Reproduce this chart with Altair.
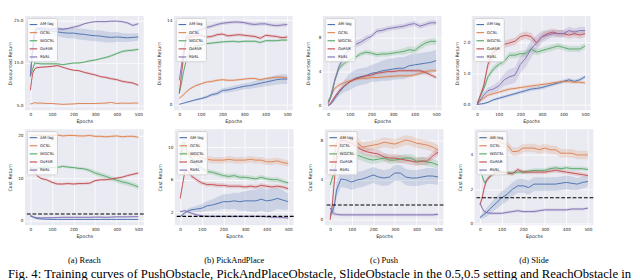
import altair as alt
import pandas as pd

SERIES = ["AM-lag", "GCSL", "WGCSL", "GoFAR", "RbSL"]
COLORS = ["#4C72B0", "#DD8452", "#55A868", "#C44E52", "#8172B3"]
EPOCHS = [0, 10, 20, 30, 50, 75, 100, 125, 150, 175, 200, 225, 250, 275, 300, 325, 350, 375, 400, 425, 450, 475, 500]
X_TICKS = [0, 100, 200, 300, 400, 500]

# ---------------- (a) Reach : Discounted Return ----------------
REACH_RET = {
    "AM-lag": [12.0, 18.5, 22.5, 23.0, 22.8, 22.6, 22.5, 22.3, 22.1, 22.0, 22.0, 21.8, 21.7, 21.5, 21.4, 21.3, 21.1, 21.0, 21.1, 21.0, 20.9, 21.0, 21.1],
    "GCSL": [5.4, 5.5, 5.7, 5.6, 5.6, 5.5, 5.5, 5.4, 5.3, 5.35, 5.4, 5.5, 5.5, 5.5, 5.5, 5.55, 5.6, 5.75, 5.5, 5.6, 5.55, 5.6, 5.6],
    "WGCSL": [11.8, 13.5, 15.0, 14.9, 14.8, 14.8, 14.8, 14.8, 14.6, 14.8, 15.0, 15.0, 15.2, 15.5, 15.7, 16.0, 16.3, 16.7, 17.2, 17.7, 17.9, 18.0, 18.2],
    "GoFAR": [8.6, 12.5, 13.6, 13.9, 14.0, 14.1, 14.2, 14.4, 14.0, 13.6, 13.3, 13.2, 12.8, 12.5, 12.2, 11.8, 11.6, 11.3, 11.1, 10.7, 10.5, 10.3, 9.8],
    "RbSL": [12.0, 17.5, 21.5, 23.0, 23.2, 23.0, 23.0, 23.0, 22.9, 23.1, 23.4, 23.7, 24.2, 24.5, 24.7, 24.7, 24.7, 24.8, 24.8, 24.7, 24.4, 23.8, 24.2],
}
REACH_RET_BAND = {
    "AM-lag": [0.5, 1.0, 0.8, 0.6, 0.5, 0.6, 0.8, 1.0, 1.1, 1.2, 1.2, 1.3, 1.3, 1.3, 1.3, 1.3, 1.3, 1.2, 1.2, 1.0, 1.0, 0.9, 0.9],
    "GCSL": [0.1] * 23,
    "WGCSL": [0.3, 0.3, 0.3, 0.2, 0.2, 0.2, 0.2, 0.2, 0.2, 0.2, 0.2, 0.2, 0.2, 0.25, 0.25, 0.25, 0.3, 0.3, 0.3, 0.3, 0.3, 0.3, 0.3],
    "GoFAR": [0.3, 0.4, 0.3, 0.2, 0.2, 0.2, 0.2, 0.2, 0.2, 0.2, 0.2, 0.2, 0.25, 0.25, 0.25, 0.25, 0.3, 0.3, 0.3, 0.3, 0.3, 0.3, 0.3],
    "RbSL": [0.3, 0.5, 0.4, 0.3, 0.3, 0.3, 0.3, 0.3, 0.3, 0.3, 0.3, 0.3, 0.2, 0.2, 0.2, 0.2, 0.2, 0.2, 0.2, 0.2, 0.3, 0.3, 0.3],
}

# ---------------- (a) Reach : Cost Return ----------------
REACH_COST = {
    "AM-lag": [1.0, 0.8, 0.6, 0.4, 0.3, 0.25, 0.2, 0.2, 0.2, 0.2, 0.2, 0.2, 0.2, 0.2, 0.2, 0.2, 0.2, 0.2, 0.2, 0.2, 0.2, 0.2, 0.2],
    "GCSL": [20.3, 20.0, 20.1, 20.2, 20.1, 20.0, 20.1, 20.2, 20.0, 20.1, 20.1, 20.0, 20.0, 20.1, 19.9, 19.9, 19.8, 19.9, 20.0, 19.8, 19.9, 19.9, 19.7],
    "WGCSL": [12.4, 12.4, 12.2, 12.3, 12.5, 12.7, 12.5, 12.5, 12.8, 12.6, 12.5, 12.3, 12.2, 11.8, 11.2, 10.8, 10.4, 9.9, 9.5, 9.1, 8.8, 8.4, 7.9],
    "GoFAR": [12.4, 12.0, 11.4, 10.6, 9.9, 9.6, 9.0, 8.6, 8.6, 8.7, 8.6, 8.7, 8.7, 8.8, 9.4, 9.6, 9.6, 9.8, 10.0, 10.2, 10.6, 10.9, 11.2],
    "RbSL": [1.2, 0.9, 0.7, 0.6, 0.55, 0.6, 0.6, 0.65, 0.7, 0.7, 0.7, 0.7, 0.7, 0.7, 0.75, 0.75, 0.7, 0.75, 0.8, 0.8, 0.8, 0.85, 0.85],
}
REACH_COST_BAND = {
    "AM-lag": [0.2, 0.15, 0.1, 0.1, 0.1, 0.1, 0.1, 0.1, 0.1, 0.1, 0.1, 0.1, 0.1, 0.1, 0.1, 0.1, 0.1, 0.1, 0.1, 0.1, 0.1, 0.1, 0.1],
    "GCSL": [0.3] * 23,
    "WGCSL": [0.4, 0.3, 0.3, 0.3, 0.3, 0.3, 0.3, 0.3, 0.3, 0.3, 0.3, 0.4, 0.4, 0.5, 0.6, 0.6, 0.6, 0.6, 0.6, 0.6, 0.6, 0.6, 0.6],
    "GoFAR": [0.6, 0.4, 0.3, 0.3, 0.3, 0.3, 0.3, 0.3, 0.3, 0.3, 0.3, 0.3, 0.3, 0.3, 0.3, 0.3, 0.3, 0.3, 0.3, 0.3, 0.3, 0.3, 0.3],
    "RbSL": [0.3, 0.2, 0.2, 0.2, 0.2, 0.2, 0.2, 0.2, 0.2, 0.2, 0.2, 0.2, 0.2, 0.2, 0.2, 0.2, 0.2, 0.2, 0.2, 0.2, 0.2, 0.2, 0.2],
}

# ---------------- (b) PickAndPlace : Discounted Return ----------------
PICK_RET = {
    "AM-lag": [0.0, 0.1, 0.2, 0.3, 0.5, 0.75, 0.95, 1.2, 1.6, 1.8, 2.3, 2.4, 2.6, 2.8, 3.0, 3.1, 3.3, 3.5, 3.7, 3.9, 4.1, 4.2, 4.2],
    "GCSL": [1.0, 1.3, 1.6, 2.0, 2.6, 3.1, 3.4, 3.7, 3.8, 4.0, 4.1, 4.0, 4.0, 4.1, 4.2, 4.3, 4.3, 4.1, 4.3, 4.4, 4.5, 4.5, 4.4],
    "WGCSL": [1.8, 3.5, 5.5, 7.0, 9.0, 9.7, 9.9, 10.1, 10.2, 10.3, 10.4, 10.45, 10.5, 10.4, 10.5, 10.5, 10.5, 10.3, 10.6, 10.6, 10.6, 10.7, 10.7],
    "GoFAR": [1.8, 5.0, 8.0, 10.5, 11.3, 11.4, 11.5, 11.2, 11.3, 11.6, 11.7, 11.4, 11.5, 11.6, 11.5, 11.4, 11.3, 11.0, 11.5, 11.4, 11.3, 11.1, 11.2],
    "RbSL": [4.0, 6.5, 9.0, 11.0, 11.8, 12.2, 12.4, 12.8, 13.0, 13.3, 13.5, 13.6, 13.7, 13.7, 13.6, 13.4, 13.3, 13.4, 13.4, 13.2, 13.1, 13.2, 13.3],
}
PICK_RET_BAND = {
    "AM-lag": [0.05, 0.05, 0.05, 0.1, 0.1, 0.15, 0.2, 0.25, 0.3, 0.35, 0.4, 0.45, 0.5, 0.5, 0.5, 0.55, 0.6, 0.65, 0.7, 0.75, 0.8, 0.8, 0.8],
    "GCSL": [0.2] * 23,
    "WGCSL": [0.2] * 23,
    "GoFAR": [0.25] * 23,
    "RbSL": [0.3] * 23,
}

# ---------------- (b) PickAndPlace : Cost Return ----------------
PICK_COST = {
    "AM-lag": [1.5, 1.7, 1.9, 2.1, 2.3, 2.4, 2.5, 2.8, 2.9, 3.1, 3.3, 3.3, 3.4, 3.3, 3.4, 3.4, 3.4, 3.6, 3.4, 3.5, 3.7, 3.5, 3.3],
    "GCSL": [9.5, 9.4, 9.3, 9.2, 9.1, 9.0, 8.7, 8.5, 8.4, 8.4, 8.4, 8.5, 8.4, 8.4, 8.4, 8.5, 8.4, 8.4, 8.2, 8.2, 8.3, 8.1, 8.0],
    "WGCSL": [8.0, 10.5, 10.6, 9.6, 8.7, 7.9, 7.4, 7.0, 6.9, 6.7, 6.5, 6.4, 6.5, 6.3, 6.3, 6.2, 6.1, 6.3, 6.1, 6.0, 6.0, 5.8, 5.6],
    "GoFAR": [3.7, 5.3, 6.8, 7.2, 6.5, 6.0, 5.6, 5.4, 5.4, 5.3, 5.3, 5.2, 5.2, 5.2, 5.1, 5.2, 5.1, 5.3, 5.2, 5.1, 5.2, 5.1, 4.9],
    "RbSL": [2.1, 2.1, 2.2, 2.1, 1.9, 1.7, 1.55, 1.5, 1.5, 1.5, 1.5, 1.5, 1.5, 1.5, 1.5, 1.5, 1.5, 1.5, 1.45, 1.4, 1.4, 1.35, 1.3],
}
PICK_COST_BAND = {
    "AM-lag": [0.1, 0.15, 0.2, 0.2, 0.3, 0.4, 0.5, 0.6, 0.7, 0.8, 0.9, 0.95, 1.0, 1.1, 1.2, 1.3, 1.4, 1.4, 1.4, 1.4, 1.3, 1.2, 1.0],
    "GCSL": [0.4] * 23,
    "WGCSL": [0.3] * 23,
    "GoFAR": [0.25] * 23,
    "RbSL": [0.15] * 23,
}

# ---------------- (c) Push : Discounted Return ----------------
PUSH_RET = {
    "AM-lag": [0.0, 0.1, 0.4, 0.8, 1.5, 2.3, 2.8, 3.2, 3.4, 3.5, 3.8, 3.9, 4.1, 4.2, 4.3, 4.4, 4.4, 4.7, 4.8, 4.9, 5.0, 5.1, 5.3],
    "GCSL": [0.3, 0.9, 1.5, 2.0, 2.4, 2.7, 2.9, 3.1, 3.2, 3.2, 3.3, 3.3, 3.35, 3.4, 3.45, 3.5, 3.5, 3.5, 3.6, 3.8, 4.0, 4.1, 4.1],
    "WGCSL": [0.5, 1.0, 2.0, 2.9, 4.4, 5.0, 5.4, 5.7, 6.1, 6.3, 6.2, 6.0, 6.1, 6.1, 6.2, 6.3, 6.4, 6.6, 6.5, 7.0, 7.4, 7.6, 7.6],
    "GoFAR": [0.0, 0.2, 0.6, 1.0, 1.7, 2.3, 2.8, 3.1, 3.3, 3.5, 3.6, 3.8, 3.9, 4.0, 4.0, 4.1, 4.1, 4.1, 4.1, 4.1, 3.9, 3.6, 3.3],
    "RbSL": [0.2, 0.8, 1.6, 3.0, 4.6, 5.9, 6.7, 7.2, 7.5, 7.9, 8.2, 8.8, 8.9, 9.1, 9.2, 9.3, 9.4, 9.6, 9.7, 9.4, 9.6, 9.8, 9.8],
}
PUSH_RET_BAND = {
    "AM-lag": [0.05, 0.1, 0.2, 0.3, 0.4, 0.7, 1.0, 1.0, 1.0, 1.0, 1.0, 1.1, 1.2, 1.3, 1.3, 1.3, 1.3, 1.3, 1.3, 1.3, 1.3, 1.3, 1.3],
    "GCSL": [0.2] * 23,
    "WGCSL": [0.2, 0.2, 0.3, 0.3, 0.3, 0.3, 0.3, 0.3, 0.3, 0.3, 0.3, 0.3, 0.3, 0.3, 0.3, 0.3, 0.4, 0.4, 0.4, 0.4, 0.4, 0.4, 0.4],
    "GoFAR": [0.2] * 23,
    "RbSL": [0.1, 0.2, 0.3, 0.4, 0.5, 0.5, 0.5, 0.4, 0.4, 0.4, 0.3, 0.3, 0.3, 0.3, 0.3, 0.3, 0.3, 0.3, 0.3, 0.3, 0.3, 0.3, 0.3],
}

# ---------------- (c) Push : Cost Return ----------------
PUSH_COST = {
    "AM-lag": [0.5, 0.8, 1.5, 3.0, 4.1, 4.0, 3.8, 4.0, 4.1, 4.3, 4.5, 4.3, 4.2, 4.3, 4.7, 4.7, 4.3, 4.2, 4.2, 4.3, 4.4, 4.4, 4.3],
    "GCSL": [4.5, 5.5, 6.5, 7.8, 8.3, 8.3, 8.0, 7.8, 7.3, 7.4, 7.5, 7.6, 7.8, 7.7, 7.6, 7.8, 8.0, 7.9, 7.7, 7.6, 7.5, 7.3, 7.0],
    "WGCSL": [3.5, 4.2, 5.0, 6.2, 6.8, 6.8, 6.8, 6.5, 6.3, 6.1, 6.0, 6.1, 6.2, 6.0, 6.0, 6.1, 6.2, 6.2, 5.9, 5.9, 5.8, 5.7, 5.5],
    "GoFAR": [0.0, 1.5, 4.0, 6.5, 8.0, 7.9, 7.7, 7.3, 7.0, 6.8, 6.7, 6.6, 6.3, 6.2, 6.2, 6.1, 6.0, 5.9, 5.8, 5.9, 5.9, 6.4, 6.8],
    "RbSL": [1.2, 0.8, 0.6, 0.55, 0.5, 0.5, 0.5, 0.5, 0.5, 0.5, 0.5, 0.5, 0.5, 0.5, 0.5, 0.5, 0.5, 0.5, 0.5, 0.5, 0.5, 0.5, 0.55],
}
PUSH_COST_BAND = {
    "AM-lag": [0.3, 0.4, 0.6, 0.8, 0.8, 0.8, 0.8, 0.8, 0.8, 0.8, 0.8, 0.8, 0.8, 0.8, 0.8, 0.8, 0.8, 0.8, 0.8, 0.8, 0.8, 0.8, 0.8],
    "GCSL": [0.5] * 23,
    "WGCSL": [0.4] * 23,
    "GoFAR": [0.4] * 23,
    "RbSL": [0.5, 0.3, 0.2, 0.15, 0.15, 0.15, 0.15, 0.15, 0.15, 0.15, 0.15, 0.15, 0.15, 0.15, 0.15, 0.15, 0.15, 0.15, 0.15, 0.15, 0.15, 0.15, 0.15],
}

# ---------------- (d) Slide : Discounted Return ----------------
SLIDE_RET = {
    "AM-lag": [0.0, 0.01, 0.02, 0.03, 0.07, 0.15, 0.2, 0.25, 0.3, 0.35, 0.4, 0.45, 0.5, 0.52, 0.55, 0.6, 0.65, 0.7, 0.75, 0.8, 0.75, 0.8, 0.9],
    "GCSL": [0.0, 0.1, 0.15, 0.2, 0.3, 0.35, 0.4, 0.45, 0.5, 0.52, 0.55, 0.57, 0.6, 0.62, 0.65, 0.67, 0.7, 0.72, 0.75, 0.74, 0.72, 0.72, 0.7],
    "WGCSL": [0.05, 0.2, 0.35, 0.5, 0.9, 1.15, 1.3, 1.4, 1.6, 1.6, 1.65, 1.65, 1.8, 1.7, 1.75, 1.8, 1.85, 1.9, 1.85, 1.8, 1.8, 1.8, 1.9],
    "GoFAR": [0.0, 0.2, 0.4, 0.6, 1.3, 1.7, 1.8, 1.95, 2.0, 2.05, 2.2, 2.25, 2.2, 2.0, 2.2, 2.3, 2.35, 2.3, 2.3, 2.25, 2.3, 2.25, 2.3],
    "RbSL": [0.0, 0.1, 0.2, 0.3, 0.45, 0.5, 0.6, 0.8, 0.9, 0.95, 1.3, 1.5, 1.8, 2.0, 2.2, 2.25, 2.3, 2.3, 2.3, 2.4, 2.35, 2.4, 2.4],
}
SLIDE_RET_BAND = {
    "AM-lag": [0.02, 0.02, 0.02, 0.03, 0.03, 0.04, 0.05, 0.05, 0.05, 0.05, 0.06, 0.06, 0.06, 0.06, 0.06, 0.06, 0.06, 0.06, 0.06, 0.06, 0.06, 0.06, 0.06],
    "GCSL": [0.05] * 23,
    "WGCSL": [0.03, 0.05, 0.08, 0.1, 0.1, 0.1, 0.1, 0.1, 0.1, 0.1, 0.1, 0.1, 0.1, 0.1, 0.1, 0.1, 0.1, 0.1, 0.1, 0.1, 0.1, 0.1, 0.1],
    "GoFAR": [0.03, 0.08, 0.1, 0.12, 0.15, 0.15, 0.15, 0.12, 0.12, 0.12, 0.12, 0.12, 0.12, 0.12, 0.12, 0.12, 0.12, 0.12, 0.12, 0.12, 0.12, 0.12, 0.12],
    "RbSL": [0.02, 0.05, 0.08, 0.1, 0.1, 0.12, 0.15, 0.2, 0.25, 0.25, 0.28, 0.28, 0.28, 0.25, 0.2, 0.15, 0.12, 0.12, 0.12, 0.12, 0.12, 0.12, 0.12],
}

# ---------------- (d) Slide : Cost Return ----------------
SLIDE_COST = {
    "AM-lag": [0.35, 0.45, 0.55, 0.65, 0.9, 1.2, 1.5, 1.7, 2.0, 2.2, 2.2, 2.1, 2.3, 2.3, 2.3, 2.3, 2.3, 2.35, 2.4, 2.35, 2.3, 2.4, 2.45],
    "GCSL": [5.0, 5.0, 5.0, 5.0, 5.0, 4.9, 4.7, 4.6, 4.2, 4.2, 4.4, 4.4, 4.4, 4.3, 4.4, 4.3, 4.3, 4.1, 4.1, 4.1, 4.0, 4.0, 4.0],
    "WGCSL": [3.1, 2.8, 2.4, 2.5, 2.8, 3.0, 3.0, 2.95, 2.95, 3.0, 3.0, 3.05, 3.1, 3.1, 3.1, 3.2, 3.25, 3.2, 3.25, 3.2, 3.2, 3.2, 3.15],
    "GoFAR": [1.1, 1.5, 2.1, 2.5, 2.8, 3.0, 3.0, 2.95, 2.9, 3.15, 3.0, 3.0, 3.0, 3.0, 3.0, 3.05, 3.1, 3.05, 3.0, 2.95, 2.9, 2.85, 2.8],
    "RbSL": [1.2, 0.9, 0.7, 0.65, 0.6, 0.6, 0.6, 0.65, 0.7, 0.75, 0.7, 0.7, 0.7, 0.75, 0.8, 0.8, 0.8, 0.8, 0.8, 0.85, 0.85, 0.85, 0.9],
}
SLIDE_COST_BAND = {
    "AM-lag": [0.1, 0.15, 0.2, 0.25, 0.3, 0.35, 0.4, 0.4, 0.4, 0.4, 0.4, 0.4, 0.4, 0.4, 0.4, 0.4, 0.4, 0.4, 0.4, 0.4, 0.35, 0.35, 0.3],
    "GCSL": [0.25] * 23,
    "WGCSL": [0.12] * 23,
    "GoFAR": [0.15, 0.2, 0.2, 0.15, 0.12, 0.12, 0.12, 0.12, 0.12, 0.12, 0.12, 0.12, 0.12, 0.12, 0.12, 0.12, 0.12, 0.12, 0.12, 0.12, 0.12, 0.12, 0.12],
    "RbSL": [0.15, 0.1, 0.08, 0.08, 0.08, 0.08, 0.08, 0.08, 0.08, 0.08, 0.08, 0.08, 0.08, 0.08, 0.08, 0.08, 0.08, 0.08, 0.08, 0.08, 0.08, 0.08, 0.08],
}

CAPTIONS = ["(a) Reach", "(b) PickAndPlace", "(c) Push", "(d) Slide"]
FIG_CAPTION = ("Fig. 4: Training curves of PushObstacle, PickAndPlaceObstacle, SlideObstacle "
               "in the 0.5,0.5 setting and ReachObstacle in")
THRESHOLD = 1.5

PW = 126
TOP_H = 100
BOT_H = 102


def make_panel(means, bands, ydom, yticks, yfmt, ytitle, height, caption=None, threshold=False):
    rows = []
    for s in SERIES:
        for e, m, b in zip(EPOCHS, means[s], bands[s]):
            rows.append({"epoch": e, "series": s, "mean": m, "lo": m - b, "hi": m + b})
    df = pd.DataFrame(rows)
    xenc = alt.X("epoch:Q", scale=alt.Scale(domain=[-25, 525], nice=False),
                 axis=alt.Axis(values=X_TICKS, title="Epochs"))
    yscale = alt.Scale(domain=ydom, nice=False, zero=False)
    cscale = alt.Scale(domain=SERIES, range=COLORS)
    leg = alt.Legend(orient="top-left", title=None, symbolOpacity=1, symbolFillColor="transparent")
    base = alt.Chart(df)
    band = base.mark_area(fillOpacity=0.2, clip=True).encode(
        x=xenc,
        y=alt.Y("lo:Q", scale=yscale,
                axis=alt.Axis(values=yticks, format=yfmt, title=ytitle, minExtent=11, maxExtent=11)),
        y2="hi:Q",
        color=alt.Color("series:N", scale=cscale, legend=leg),
    )
    line = base.mark_line(strokeWidth=1, clip=True).encode(
        x=xenc,
        y=alt.Y("mean:Q", scale=yscale),
        color=alt.Color("series:N", scale=cscale, legend=leg),
    )
    layers = [band, line]
    if threshold:
        rule = alt.Chart(pd.DataFrame({"t": [THRESHOLD]})).mark_rule(
            color="black", strokeDash=[4, 2], strokeWidth=1.1
        ).encode(y=alt.Y("t:Q", scale=yscale))
        layers.append(rule)
    if caption:
        cap = alt.Chart(pd.DataFrame({"c": [caption]})).mark_text(
            font="Liberation Serif", fontSize=9, color="black", baseline="middle", align="center"
        ).encode(text="c:N", x=alt.value(PW / 2), y=alt.value(height + 37))
        layers.append(cap)
    return alt.layer(*layers).properties(width=PW, height=height)


top = [
    make_panel(REACH_RET, REACH_RET_BAND, [3.9, 26.0], [5, 7.5, 10, 12.5, 15, 17.5, 20, 22.5, 25], ".1f", "Discounted Return", TOP_H),
    make_panel(PICK_RET, PICK_RET_BAND, [-1.0, 14.7], [0, 2, 4, 6, 8, 10, 12, 14], "d", "Discounted Return", TOP_H),
    make_panel(PUSH_RET, PUSH_RET_BAND, [-0.6, 10.6], [0, 2, 4, 6, 8, 10], "d", "Discounted Return", TOP_H),
    make_panel(SLIDE_RET, SLIDE_RET_BAND, [-0.19, 2.87], [0, 0.5, 1.0, 1.5, 2.0, 2.5], ".1f", "Discounted Return", TOP_H),
]
bottom = [
    make_panel(REACH_COST, REACH_COST_BAND, [-1.2, 21.6], [0, 5, 10, 15, 20], "d", "Cost Return", BOT_H, CAPTIONS[0], True),
    make_panel(PICK_COST, PICK_COST_BAND, [0.4, 12.2], [2, 4, 6, 8, 10, 12], "d", "Cost Return", BOT_H, CAPTIONS[1], True),
    make_panel(PUSH_COST, PUSH_COST_BAND, [-0.55, 9.1], [0, 2, 4, 6, 8], "d", "Cost Return", BOT_H, CAPTIONS[2], True),
    make_panel(SLIDE_COST, SLIDE_COST_BAND, [-0.1, 5.5], [0, 1, 2, 3, 4, 5], "d", "Cost Return", BOT_H, CAPTIONS[3], True),
]


def res(c):
    return c.resolve_scale(color="independent", y="independent").resolve_legend(color="independent")


row1 = res(alt.hconcat(*top, spacing=14))
row2 = res(alt.hconcat(*bottom, spacing=14))

chart = res(alt.vconcat(row1, row2, spacing=6)).properties(
    title=alt.TitleParams(text=FIG_CAPTION, orient="bottom", anchor="start", frame="bounds",
                          font="Liberation Serif", fontSize=13.5, fontWeight="normal", color="black", offset=3),
    padding=0,
).configure_view(
    fill="#EAEAF2", stroke=None
).configure_axis(
    grid=True, gridColor="white", gridWidth=0.8, domain=False, ticks=False,
    labelFont="DejaVu Sans", labelFontSize=4.5, labelColor="#262626", labelPadding=2,
    labelOverlap=False, labelFlush=False, labelBound=False,
    titleFont="DejaVu Sans", titleFontSize=5, titleFontWeight="normal", titleColor="#262626", titlePadding=2,
).configure_legend(
    symbolType="stroke", symbolSize=64, symbolStrokeWidth=1.2, labelFont="DejaVu Sans",
    labelFontSize=4.2, labelColor="#262626", padding=2, rowPadding=0.6, offset=2,
    fillColor="rgba(255,255,255,0.8)", strokeColor="#d0d0d0", cornerRadius=2, labelOffset=2,
)

chart.save("out.html", embed_options={"renderer": "svg", "actions": False})
